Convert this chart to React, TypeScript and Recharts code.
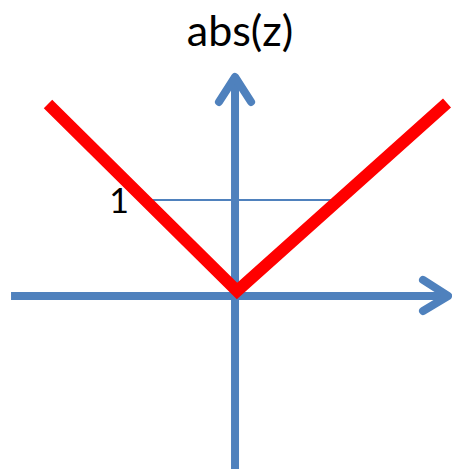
import React from "react";
import { LineChart, Line, XAxis, YAxis } from "recharts";

const title = "abs(z)";
const levelLabel = "1";

// abs(z) curve (V shape)
const absX = [-1.948, 0.021, 2.208];
const absY = [2.0, 0.052, 2.01];

// reference level line at y = 1
const levelX = [-0.885, 1.031];
const levelY = [1, 1];

// axes
const hAxisX = [-2.333, 2.229];
const hAxisY = [0, 0];
const hArrowX = [1.958, 2.219, 1.958];
const hArrowY = [0.167, 0, -0.156];
const vAxisX = [0, 0];
const vAxisY = [-1.85, 2.281];
const vArrowX = [-0.167, 0, 0.167];
const vArrowY = [2.021, 2.281, 2.021];

const zip = (xs: number[], ys: number[]) => xs.map((x, i) => ({ x, y: ys[i] }));

const BLUE = "#4F81BD";
const RED = "#FF0000";

const common = { dataKey: "y", dot: false, activeDot: false, isAnimationActive: false } as const;

export default function App() {
  return (
    <div style={{ position: "absolute", left: 0, top: 0, width: 452, height: 469, background: "#fff" }}>
      <LineChart width={452} height={469} margin={{ top: 0, right: 0, bottom: 0, left: 0 }}>
        <XAxis type="number" dataKey="x" domain={[-2.448, 2.26]} allowDataOverflow hide />
        <YAxis type="number" dataKey="y" domain={[-1.802, 3.083]} allowDataOverflow hide />
        <Line {...common} data={zip(hAxisX, hAxisY)} stroke={BLUE} strokeWidth={8} strokeLinecap="butt" />
        <Line {...common} data={zip(hArrowX, hArrowY)} stroke={BLUE} strokeWidth={8} strokeLinecap="round" strokeLinejoin="round" />
        <Line {...common} data={zip(vAxisX, vAxisY)} stroke={BLUE} strokeWidth={8} />
        <Line {...common} data={zip(vArrowX, vArrowY)} stroke={BLUE} strokeWidth={8} strokeLinecap="round" strokeLinejoin="round" />
        <Line {...common} data={zip(levelX, levelY)} stroke={BLUE} strokeWidth={2} />
        <Line {...common} data={zip(absX, absY)} stroke={RED} strokeWidth={12} strokeLinejoin="miter" strokeLinecap="butt" />
      </LineChart>
      <div style={{ position: "absolute", left: 0, width: 480, top: 6, textAlign: "center", fontFamily: "Lato, sans-serif", fontSize: 43, lineHeight: "48px", color: "#000" }}>
        {title}
      </div>
      <div style={{ position: "absolute", left: 104, width: 30, top: 182, textAlign: "center", fontFamily: "Lato, sans-serif", fontSize: 34, lineHeight: "36px", color: "#000" }}>
        {levelLabel}
      </div>
    </div>
  );
}
